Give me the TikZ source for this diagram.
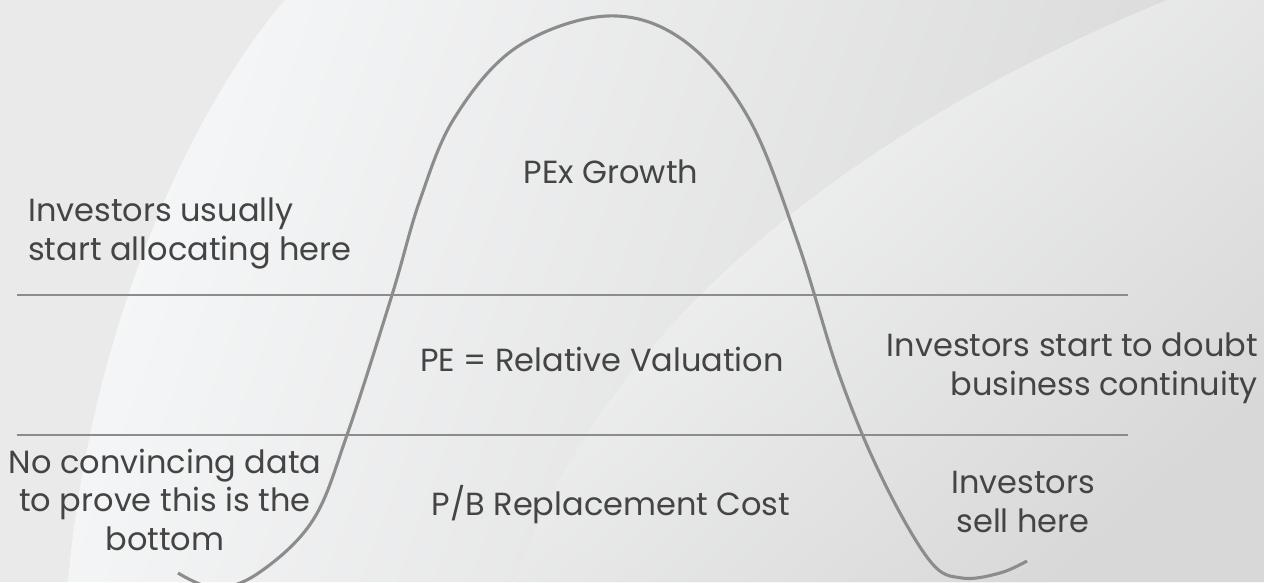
\documentclass[tikz,border=0pt]{standalone}
\usepackage{fontspec}
\setmainfont{Poppins}
\definecolor{txtgray}{HTML}{444444}
\definecolor{linegray}{HTML}{8C8C8C}
\definecolor{bgbase}{HTML}{EAEAEA}
\definecolor{bglight}{HTML}{F5F6F7}
\definecolor{bgdark}{HTML}{D8D8D8}
\begin{document}
\begin{tikzpicture}[x=1pt, y=-1pt]
\tikzstyle{lbl}=[text=txtgray, font=\fontsize{32}{38.5}\selectfont, inner sep=0pt]
\tikzstyle{rule}=[draw=linegray, line width=2.6pt]
\tikzstyle{curve}=[draw=linegray, line width=3.1pt]
\useasboundingbox (0,0) rectangle (1264,582);
\clip (0,0) rectangle (1264,582);
% background sweeps
\fill[bgbase] (0,0) rectangle (1264,582);
\shade[top color=bglight, bottom color=bgdark, shading angle=70]
  (285,0) .. controls (190,110) and (90,330) .. (68,582) -- (1264,582) -- (1264,0) -- cycle;
\shade[top color=bglight, bottom color=bgdark, shading angle=42]
  (1167,0) .. controls (850,130) and (600,330) .. (515,582) -- (1264,582) -- (1264,0) -- cycle;

% levels
\coordinate (topw) at (17,295);
\coordinate (tope) at (1128,295);
\coordinate (loww) at (17,435);
\coordinate (lowe) at (1128,435);
\draw[rule] (topw) -- (tope);
\draw[rule] (loww) -- (lowe);

% cycle
\draw[curve] plot[smooth, tension=0.6] coordinates {
  (178,573) (216,588) (260,572) (313,520) (347,435) (392,295) (420,200)
  (455,117) (517,47) (607,16) (683,40) (748,117) (797,240) (840,377)
  (883,480) (930,561) (962,578) (1000,573) (1027,561)};

\node[lbl, anchor=base](pexgrowth)   at (611,183) {PEx Growth};
\node[lbl, anchor=base](pevalue)     at (602,371) {PE = Relative Valuation};
\node[lbl, anchor=base](pbcost)      at (611,515) {P/B Replacement Cost};
\node[lbl, align=left, anchor=base west](allocate) at (28,260) {Investors usually\\start allocating here};
\node[lbl, align=right, anchor=base east](doubt)   at (1258,395) {Investors start to doubt\\business continuity};
\node[lbl, align=center, anchor=base](nobottom)    at (165,550) {No convincing data\\to prove this is the\\bottom};
\node[lbl, align=center, anchor=base](sellhere)    at (1023,532) {Investors\\sell here};
\end{tikzpicture}
\end{document}
